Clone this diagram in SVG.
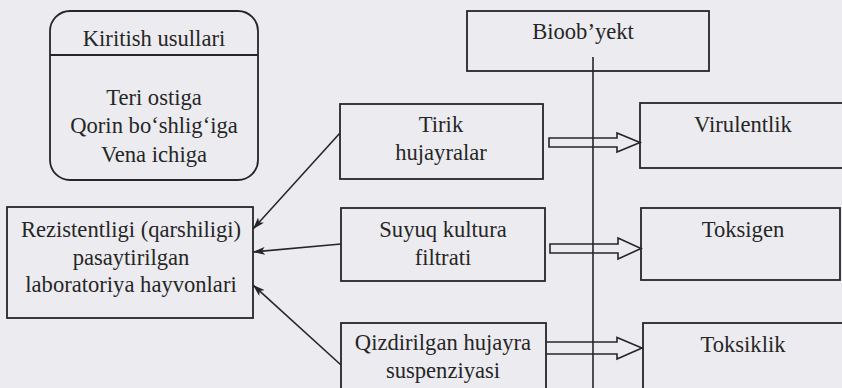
<svg xmlns="http://www.w3.org/2000/svg" width="842" height="388" viewBox="0 0 842 388">
<defs>
<style>
.bx{fill:none;stroke:#262626;stroke-width:1.8}
.ln{fill:none;stroke:#262626;stroke-width:1.6}
.ha{fill:none;stroke:#262626;stroke-width:1.6;stroke-linejoin:miter}
.t{font-family:'Liberation Serif','Times New Roman',serif;font-size:22.6px;fill:#262626;text-anchor:middle}
</style>
<marker id="ah" viewBox="0 0 12 8" refX="12" refY="4" markerWidth="12" markerHeight="8" markerUnits="userSpaceOnUse" orient="auto">
<path d="M0,0 L12,4 L0,8 L3,4 Z" fill="#262626"/>
</marker>
</defs>
<rect width="842" height="388" fill="#ececf0"/>
<g id="kiritish">
<rect class="bx" x="50" y="11" width="208" height="169" rx="20"/>
<line class="bx" x1="50" y1="55" x2="258" y2="55"/>
<text class="t" x="154" y="46">Kiritish usullari</text>
<text class="t" x="154" y="105">Teri ostiga</text>
<text class="t" x="154" y="133">Qorin bo‘shlig‘iga</text>
<text class="t" x="154" y="162">Vena ichiga</text>
</g>
<g id="rezistent">
<rect class="bx" x="7" y="207" width="246" height="111"/>
<text class="t" x="131" y="237">Rezistentligi (qarshiligi)</text>
<text class="t" x="131" y="265">pasaytirilgan</text>
<text class="t" x="131" y="292">laboratoriya hayvonlari</text>
</g>
<g id="bioobyekt">
<rect class="bx" x="467" y="11" width="242" height="60"/>
<text class="t" x="583" y="39">Bioob’yekt</text>
</g>
<g id="tirik">
<rect class="bx" x="340" y="104" width="203" height="75"/>
<text class="t" x="441" y="132">Tirik</text>
<text class="t" x="441" y="160">hujayralar</text>
</g>
<g id="suyuq">
<rect class="bx" x="341" y="208" width="204" height="73"/>
<text class="t" x="443" y="237">Suyuq kultura</text>
<text class="t" x="443" y="265">filtrati</text>
</g>
<g id="qizdirilgan">
<rect class="bx" x="341" y="323" width="205" height="80"/>
<text class="t" x="443" y="350">Qizdirilgan hujayra</text>
<text class="t" x="443" y="378">suspenziyasi</text>
</g>
<g id="virulentlik">
<rect class="bx" x="640" y="103" width="210" height="65"/>
<text class="t" x="743" y="132">Virulentlik</text>
</g>
<g id="toksigen">
<rect class="bx" x="641" y="208" width="199" height="72"/>
<text class="t" x="743" y="237">Toksigen</text>
</g>
<g id="toksiklik">
<rect class="bx" x="643" y="323" width="210" height="80"/>
<text class="t" x="743" y="352">Toksiklik</text>
</g>
<g id="connectors">
<line class="ln" x1="340" y1="133" x2="253" y2="229" marker-end="url(#ah)"/>
<line class="ln" x1="341" y1="244" x2="253" y2="252" marker-end="url(#ah)"/>
<line class="ln" x1="341" y1="365" x2="253" y2="285" marker-end="url(#ah)"/>
<path class="ha" d="M549,138 H617 V133 L640,142.5 L617,152 V147 H549 Z"/>
<path class="ha" d="M550,244 H618 V238 L641,248.5 L618,259 V253 H550 Z"/>
<path class="ha" d="M546,342 H617 V337.5 L642,348 L617,359 V354 H546"/>
<line class="ln" x1="593" y1="57" x2="593" y2="390"/>
</g>
</svg>
